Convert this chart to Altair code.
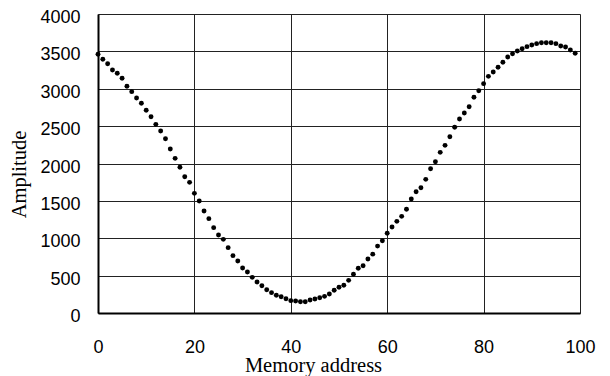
import altair as alt
import pandas as pd

address = list(range(100))
amplitude = [
    3461, 3394, 3335, 3251, 3207, 3140, 3033, 2961, 2876, 2806,
    2712, 2626, 2524, 2435, 2332, 2194, 2069, 1949, 1823, 1748,
    1601, 1498, 1364, 1262, 1142, 1043, 985, 874, 767, 696,
    602, 548, 477, 415, 365, 312, 272, 237, 218, 191,
    165, 161, 151, 151, 174, 187, 205, 223, 254, 304,
    344, 371, 437, 518, 598, 633, 722, 787, 895, 967,
    1066, 1150, 1226, 1293, 1387, 1525, 1623, 1676, 1788, 1930,
    2024, 2149, 2243, 2358, 2484, 2595, 2676, 2760, 2886, 2974,
    3068, 3166, 3224, 3287, 3354, 3425, 3469, 3505, 3536, 3563,
    3585, 3603, 3616, 3616, 3616, 3603, 3572, 3559, 3518, 3474,
]
x_ticks = [0, 20, 40, 60, 80, 100]
y_ticks = [0, 500, 1000, 1500, 2000, 2500, 3000, 3500, 4000]

df = pd.DataFrame({"address": address, "amplitude": amplitude})

chart = alt.Chart(df).mark_circle(size=24, color="#000000", opacity=1).encode(
    x=alt.X(
        "address:Q",
        scale=alt.Scale(domain=[0, 100], nice=False, zero=False),
        axis=alt.Axis(
            values=x_ticks,
            format="d",
            title="Memory address",
            titleFont="Liberation Serif",
            titleFontSize=20.5,
            titleFontWeight="normal",
            titleColor="#000000",
            titleBaseline="alphabetic",
            titleX=215,
            titleY=58,
            labelFont="Liberation Sans",
            labelFontSize=18,
            labelColor="#000000",
            labelBaseline="alphabetic",
            labelPadding=39,
            ticks=False,
            tickSize=0,
            domainColor="#000000",
            domainWidth=2,
            gridColor="#222222",
            gridWidth=1,
            labelFlush=False,
        ),
    ),
    y=alt.Y(
        "amplitude:Q",
        scale=alt.Scale(domain=[0, 4000], nice=False),
        axis=alt.Axis(
            values=y_ticks,
            format="d",
            title="Amplitude",
            titleFont="Liberation Serif",
            titleFontSize=20.5,
            titleFontWeight="normal",
            titleColor="#000000",
            titleX=-69,
            titleY=160,
            labelFont="Liberation Sans",
            labelFontSize=18,
            labelColor="#000000",
            labelBaseline="alphabetic",
            labelOffset=8.5,
            labelPadding=18,
            ticks=False,
            tickSize=0,
            domainColor="#000000",
            domainWidth=2,
            gridColor="#222222",
            gridWidth=1,
            labelFlush=False,
        ),
    ),
).properties(
    width=482,
    height=299,
    autosize=alt.AutoSizeParams(type="none"),
    padding={"left": 90, "top": 6, "right": 22, "bottom": 64},
).configure_view(
    stroke="#000000",
    strokeWidth=1.5,
).configure(background="#ffffff")

chart.save("out.html", embed_options={"renderer": "svg", "actions": False})
